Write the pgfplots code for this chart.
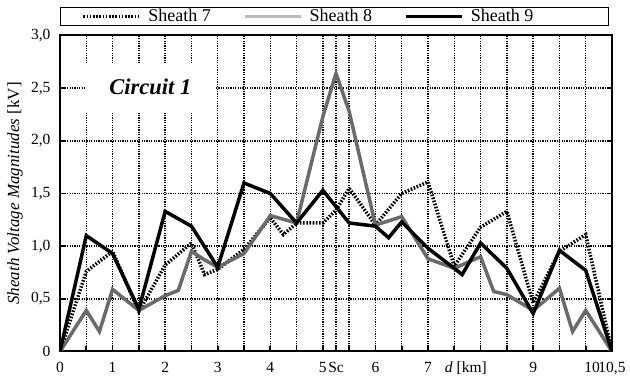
\documentclass[border=0pt]{standalone}
\usepackage{fontspec}
\setmainfont{Liberation Serif}
\usepackage{pgfplots}
\pgfplotsset{compat=1.18}
\definecolor{grayline}{HTML}{6A6A6A}
\definecolor{graylegend}{HTML}{BDBDBD}
\begin{document}
\begin{tikzpicture}
\begin{axis}[
  scale only axis, width=552pt, height=316pt,
  xmin=0, xmax=10.5, ymin=0, ymax=3,
  axis line style={line width=2pt},
  xtick={0,0.5,1,1.5,2,2.5,3,3.5,4,4.5,5,5.25,5.5,6,6.5,7,7.5,8,8.5,9,9.5,10,10.5},
  xticklabels={0,,1,,2,,3,,4,,5,Sc,,6,,7,,,,9,,,{10,5}},
  ytick={0,0.5,1,1.5,2,2.5,3},
  yticklabels={0,{0,5},{1,0},{1,5},{2,0},{2,5},{3,0}},
  extra x ticks={7.72,10.12},
  extra x tick labels={\textit{d} [km],10},
  extra x tick style={grid=none, major tick length=0pt},
  grid=major,
  major grid style={black, line width=1.5pt, dash pattern=on 1.3pt off 1.1pt},
  tick style={black, line width=1.6pt},
  major tick length=5pt,
  xtick pos=bottom,
  tick label style={font=\fontsize{15.5}{16}\selectfont},
  yticklabel style={xshift=-6pt},
  xticklabel style={yshift=-7pt},
  ylabel={\textit{Sheath Voltage Magnitudes} [kV]},
  ylabel style={font=\fontsize{17}{18}\selectfont, at={(rel axis cs:-0.061,0.5)}, anchor=south},
  legend columns=3,
  legend image code/.code={\draw[#1] (0pt,0pt) -- (56pt,0pt);},
  legend style={at={(rel axis cs:0,1)}, anchor=south west, yshift=9.6pt,
    draw=black, line width=1pt, font=\fontsize{18}{18}\selectfont,
    inner xsep=21pt, inner ysep=0pt,
    /tikz/every odd column/.append style={column sep=5pt},
    /tikz/every even column/.append style={column sep=30pt}},
]
\addplot[black, line width=3.5pt, dash pattern=on 1.6pt off 1.6pt, forget plot] coordinates {
(0,0) (0.5,0.76) (1.0,0.95) (1.5,0.38) (2.0,0.82) (2.5,1.03) (2.75,0.73) (3.0,0.78)
(3.5,0.97) (4.0,1.27) (4.25,1.11) (4.5,1.22) (5.0,1.22) (5.25,1.34) (5.5,1.55)
(6.0,1.20) (6.5,1.50) (7.0,1.61) (7.5,0.81) (8.0,1.18) (8.5,1.33) (9.0,0.46)
(9.5,0.95) (10.0,1.11) (10.5,0)};
\addplot[grayline, line width=3.5pt, forget plot] coordinates {
(0,0) (0.5,0.39) (0.75,0.19) (1.0,0.59) (1.5,0.39) (2.0,0.53) (2.25,0.58) (2.5,0.95)
(2.75,0.87) (3.0,0.80) (3.5,0.93) (4.0,1.29) (4.5,1.22) (5.0,2.23) (5.25,2.64)
(5.5,2.28) (6.0,1.20) (6.5,1.28) (7.0,0.88) (7.5,0.79) (8.0,0.90) (8.25,0.57)
(8.5,0.54) (9.0,0.39) (9.5,0.60) (9.75,0.19) (10.0,0.39) (10.5,0)};
\addplot[black, line width=3.5pt, forget plot] coordinates {
(0,0) (0.5,1.10) (1.0,0.93) (1.5,0.40) (2.0,1.33) (2.5,1.19) (3.0,0.80) (3.5,1.60)
(4.0,1.50) (4.5,1.22) (5.0,1.53) (5.5,1.22) (6.0,1.19) (6.25,1.08) (6.5,1.23)
(7.0,0.98) (7.5,0.79) (7.65,0.73) (8.0,1.03) (8.5,0.79) (9.0,0.36) (9.5,0.96)
(10.0,0.77) (10.5,0)};
\addlegendimage{black, line width=3.8pt, dash pattern=on 1.6pt off 1.6pt}
\addlegendentry{Sheath 7}
\addlegendimage{graylegend, line width=3.8pt}
\addlegendentry{Sheath 8}
\addlegendimage{black, line width=3.8pt}
\addlegendentry{Sheath 9\hspace*{52pt}}
\node[fill=white, minimum width=129pt, minimum height=49pt,
  font=\fontsize{22.5}{23}\selectfont\bfseries\itshape] at (axis cs:1.72,2.51) {Circuit 1};
\coordinate (ll) at (rel axis cs:0,0);
\end{axis}
\pgfresetboundingbox
\path (ll) ++(-60pt,-31.5pt) rectangle ++(630pt,383pt);
\end{tikzpicture}
\end{document}
